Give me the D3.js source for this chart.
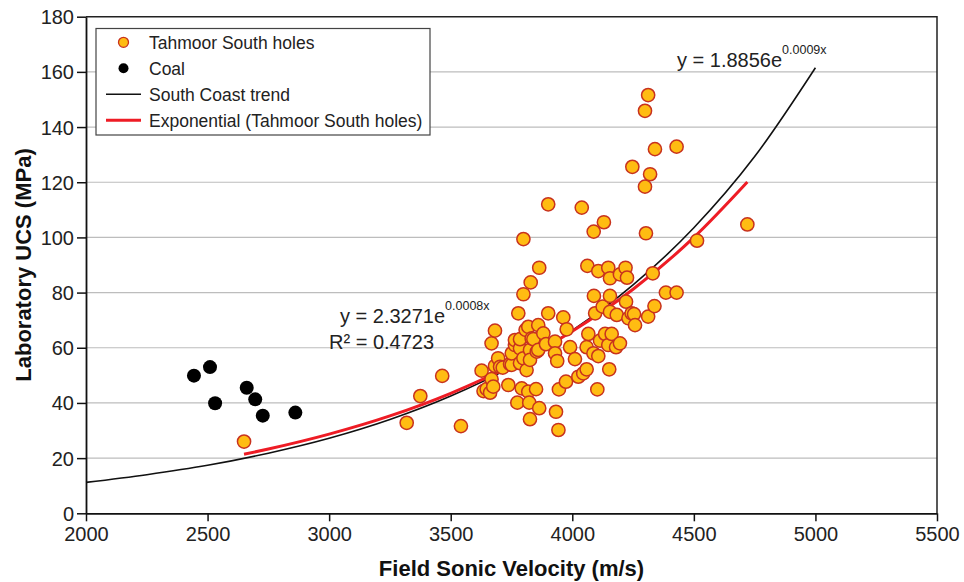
<!DOCTYPE html>
<html>
<head>
<meta charset="utf-8">
<script src="https://cdn.jsdelivr.net/npm/d3@7"></script>
<style>
  body { margin: 0; background: #fff; }
  svg { font-family: "Liberation Sans", Arial, sans-serif; }
</style>
</head>
<body>
<div id="chart"></div>
<script>
// Tahmoor South holes (field sonic velocity m/s, lab UCS MPa)
const tahmoorVelocity = [
  2650, 3319, 3375, 3465, 3542, 3627, 3635, 3648, 3662, 3668, 3668, 3675, 3682, 3682,
  3695, 3703, 3714, 3737, 3744, 3751, 3751, 3764, 3764, 3774, 3778, 3785, 3785, 3785,
  3792, 3799, 3799, 3799, 3808, 3812, 3819, 3819, 3823, 3826, 3826, 3826, 3829, 3833,
  3840, 3851, 3854, 3860, 3860, 3864, 3864, 3881, 3892, 3901, 3901, 3929, 3929, 3933,
  3938, 3943, 3945, 3963, 3977, 3974, 3991, 4011, 4025, 4039, 4045, 4059, 4059, 4062,
  4066, 4087, 4088, 4089, 4094, 4103, 4107, 4107, 4114, 4125, 4130, 4135, 4148, 4148,
  4152, 4155, 4155, 4155, 4162, 4180, 4183, 4196, 4196, 4219, 4221, 4225, 4231, 4244,
  4247, 4254, 4258, 4299, 4299, 4303, 4312, 4312, 4320, 4331, 4338, 4340, 4385, 4429,
  4429, 4513, 4720
];
const tahmoorUCS = [
  26.0, 32.8, 42.5, 49.8, 31.6, 51.7, 44.3, 45.0, 43.7, 48.6, 61.6, 45.9, 66.2, 53.4,
  56.2, 53.1, 52.8, 46.5, 54.1, 53.8, 58.0, 61.0, 62.8, 40.1, 72.5, 54.4, 59.8, 63.1,
  45.3, 56.2, 79.4, 99.4, 66.5, 51.9, 67.6, 44.1, 40.1, 59.2, 55.6, 34.1, 83.7, 63.4,
  63.1, 45.0, 58.6, 68.2, 59.2, 89.0, 38.1, 65.2, 61.3, 72.5, 112.0, 62.2, 58.0, 36.8,
  55.2, 30.2, 44.9, 71.0, 66.7, 47.7, 60.2, 55.9, 49.5, 110.8, 50.7, 52.2, 60.2, 89.7,
  65.0, 58.0, 102.1, 78.8, 72.5, 44.9, 57.0, 87.8, 62.6, 74.9, 105.5, 65.0, 61.0, 89.0,
  52.2, 85.2, 78.8, 73.0, 65.0, 60.2, 71.9, 61.6, 86.6, 89.0, 76.7, 85.4, 70.7, 72.5,
  125.6, 72.2, 68.2, 118.4, 145.9, 101.5, 151.6, 71.3, 122.9, 87.0, 75.1, 132.0, 80.0, 80.0,
  132.9, 98.8, 104.7
];

// Coal samples
const coalVelocity = [2444, 2510, 2531, 2661, 2696, 2727, 2861];
const coalUCS = [49.9, 53.0, 39.9, 45.5, 41.3, 35.4, 36.5];

// South Coast trend
const southCoastX = [2000, 2250, 2500, 2750, 3000, 3250, 3500, 3750, 4000, 4250, 4500, 4750, 5000];
const southCoastY = [11.2, 14.0, 17.4, 21.8, 27.2, 34.0, 42.5, 53.1, 66.3, 82.8, 103.5, 129.3, 161.5];

// Exponential fit of the Tahmoor South holes
const expFitX = [2650, 2750, 3000, 3250, 3500, 3750, 4000, 4250, 4500, 4720];
const expFitY = [21.4, 23.3, 28.7, 35.3, 43.5, 53.6, 66.0, 81.2, 100.0, 120.1];

const xTicks = [2000, 2500, 3000, 3500, 4000, 4500, 5000, 5500];
const yTicks = [0, 20, 40, 60, 80, 100, 120, 140, 160, 180];

const legendLabels = ["Tahmoor South holes", "Coal", "South Coast trend", "Exponential (Tahmoor South holes)"];

// Size and margins
let width = 964,
    height = 582;

let margin = {
    top: 16.7,
    bottom: 68.7,
    left: 86,
    right: 27
};

let svg = d3.select('#chart')
        .append('svg')
        .attr('width', width)
        .attr('height', height)
        .style('background', '#fff');

let xScale = d3.scaleLinear()
        .domain([2000, 5500])
        .range([margin.left, width - margin.right]);

let yScale = d3.scaleLinear()
        .domain([0, 180])
        .range([height - margin.bottom, margin.top]);

// Horizontal gridlines
svg.append('g')
    .selectAll('line')
    .data(yTicks.filter(d => d > 0 && d < 180))
    .enter()
    .append('line')
    .attr('x1', margin.left)
    .attr('x2', width - margin.right)
    .attr('y1', d => yScale(d))
    .attr('y2', d => yScale(d))
    .attr('stroke', '#bdbdbd')
    .attr('stroke-width', 1.2);

// Plot frame (top and right)
svg.append('path')
    .attr('d', `M${margin.left},${margin.top}H${width - margin.right}V${height - margin.bottom}`)
    .attr('fill', 'none')
    .attr('stroke', '#222')
    .attr('stroke-width', 1.5);

// Axes
let xAxis = svg.append('g')
        .attr('transform', `translate(0, ${height - margin.bottom})`)
        .call(d3.axisBottom(xScale).tickValues(xTicks).tickFormat(d3.format('d'))
            .tickSize(8).tickSizeOuter(0).tickPadding(6));

let yAxis = svg.append('g')
        .attr('transform', `translate(${margin.left}, 0)`)
        .call(d3.axisLeft(yScale).tickValues(yTicks).tickFormat(d3.format('d'))
            .tickSize(9).tickSizeOuter(0).tickPadding(3));

[xAxis, yAxis].forEach(ax => {
    ax.select('.domain').attr('stroke', '#111').attr('stroke-width', 1.8);
    ax.selectAll('.tick line').attr('stroke', '#111').attr('stroke-width', 1.5);
    ax.selectAll('.tick text')
        .style('font-family', '"Liberation Sans", Arial, sans-serif')
        .style('font-size', '20px')
        .attr('fill', '#222');
});
yAxis.selectAll('.tick text').attr('dy', '0.35em');

// Trend lines
const line = d3.line()
    .x(d => xScale(d[0]))
    .y(d => yScale(d[1]))
    .curve(d3.curveMonotoneX);

svg.append('path')
    .datum(d3.zip(southCoastX, southCoastY))
    .attr('d', line)
    .attr('fill', 'none')
    .attr('stroke', '#111')
    .attr('stroke-width', 1.6);

svg.append('path')
    .datum(d3.zip(expFitX, expFitY))
    .attr('d', line)
    .attr('fill', 'none')
    .attr('stroke', '#ee1c25')
    .attr('stroke-width', 3);

// Coal points
svg.append('g')
    .selectAll('circle')
    .data(d3.zip(coalVelocity, coalUCS))
    .enter()
    .append('circle')
    .attr('cx', d => xScale(d[0]))
    .attr('cy', d => yScale(d[1]))
    .attr('r', 7)
    .attr('fill', '#000');

// Tahmoor South points
svg.append('g')
    .selectAll('circle')
    .data(d3.zip(tahmoorVelocity, tahmoorUCS))
    .enter()
    .append('circle')
    .attr('cx', d => xScale(d[0]))
    .attr('cy', d => yScale(d[1]))
    .attr('r', 6.6)
    .attr('fill', '#ffbc12')
    .attr('stroke', '#c8321e')
    .attr('stroke-width', 1.5);

// Equations
const eq1 = svg.append('text')
    .attr('x', 677)
    .attr('y', 67)
    .style('font-size', '20px')
    .attr('fill', '#222');
eq1.append('tspan').text('y = 1.8856e');
eq1.append('tspan').attr('dy', -13).style('font-size', '12.5px').text('0.0009x');

const eq2 = svg.append('text')
    .attr('x', 340)
    .attr('y', 323)
    .style('font-size', '20px')
    .attr('fill', '#222');
eq2.append('tspan').text('y = 2.3271e');
eq2.append('tspan').attr('dy', -13).style('font-size', '12.5px').text('0.0008x');

svg.append('text')
    .attr('x', 329)
    .attr('y', 349)
    .style('font-size', '20px')
    .attr('fill', '#222')
    .text('R² = 0.4723');

// Axis titles
svg.append('text')
    .attr('x', (margin.left + width - margin.right) / 2)
    .attr('y', 576)
    .style('text-anchor', 'middle')
    .style('font-size', '22px')
    .style('font-weight', 'bold')
    .attr('fill', '#111')
    .text('Field Sonic Velocity (m/s)');

svg.append('text')
    .attr('transform', `translate(31, ${(margin.top + height - margin.bottom) / 2}) rotate(-90)`)
    .style('text-anchor', 'middle')
    .style('font-size', '22px')
    .style('font-weight', 'bold')
    .attr('fill', '#111')
    .text('Laboratory UCS (MPa)');

// Legend
const legend = svg.append('g');

legend.append('rect')
    .attr('x', 96)
    .attr('y', 28.5)
    .attr('width', 334)
    .attr('height', 106.5)
    .attr('fill', '#fff')
    .attr('stroke', '#444')
    .attr('stroke-width', 1.2);

const rows = legend.selectAll('.legend')
    .data(legendLabels)
    .enter()
    .append('g')
    .attr('class', 'legend')
    .attr('transform', (d, i) => `translate(0, ${42.3 + i * 26})`);

rows.append('text')
    .attr('x', 149)
    .attr('y', 6.3)
    .style('font-size', '17.5px')
    .attr('fill', '#222')
    .text(d => d);

rows.filter((d, i) => i === 0).append('circle')
    .attr('cx', 123.5).attr('cy', 0).attr('r', 5)
    .attr('fill', '#ffbc12').attr('stroke', '#c8321e').attr('stroke-width', 1.3);

rows.filter((d, i) => i === 1).append('circle')
    .attr('cx', 123.5).attr('cy', 0).attr('r', 5)
    .attr('fill', '#000');

rows.filter((d, i) => i === 2).append('line')
    .attr('x1', 106).attr('x2', 141).attr('y1', 0).attr('y2', 0)
    .attr('stroke', '#111').attr('stroke-width', 1.6);

rows.filter((d, i) => i === 3).append('line')
    .attr('x1', 106).attr('x2', 141).attr('y1', 0).attr('y2', 0)
    .attr('stroke', '#ee1c25').attr('stroke-width', 3);
</script>
</body>
</html>
